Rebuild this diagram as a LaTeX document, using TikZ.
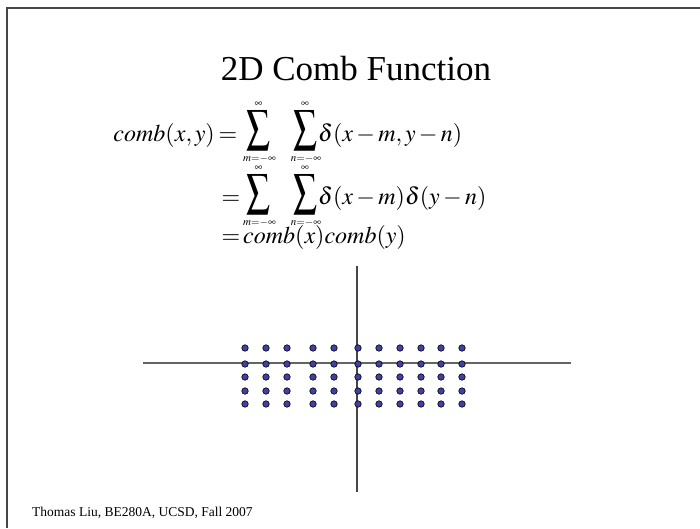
\documentclass[tikz,border=0pt]{standalone}
\usepackage{amsmath}
\usepackage{mathptmx}
\usepackage{graphicx}
\usepackage{fontspec}
\setmainfont{Liberation Serif}
\usepackage{xcolor}
\usetikzlibrary{positioning}

\definecolor{dotblue}{RGB}{64,64,168}
\definecolor{axisgray}{RGB}{100,100,100}
\definecolor{framegray}{RGB}{70,70,70}

% tall summation sign of fixed size
\newcommand{\bigsig}{\resizebox*{24pt}{40pt}{$\displaystyle\sum$}}

\begin{document}
\begin{tikzpicture}[
    x=1pt,y=-1pt,
    dot/.style={circle,draw=black,fill=dotblue,line width=0.6pt,minimum size=6.5pt,inner sep=0pt},
    axis/.style={draw=axisgray,line width=1.2pt},
    eq/.style={anchor=base west,font=\fontsize{24}{26}\selectfont},
    sig/.style={anchor=center},
    lim/.style={anchor=center,font=\fontsize{11}{12}\selectfont},
    every node/.style={inner sep=0pt}]
  \useasboundingbox (0,0) rectangle (700,528);
  % ---- slide frame ----
  \coordinate (fbl) at (7,528);
  \coordinate (ftl) at (7,8);
  \coordinate (ftr) at (700,8);
  \draw[framegray,line width=1.5pt] (fbl) -- (ftl) -- (ftr);
  % ---- title ----
  \node[anchor=base,font=\fontsize{35}{40}\selectfont] (title) at (356,80) {2D Comb Function};
  % ---- first line ----
  \node[eq,anchor=base east] (lhs) at (215,141.7) {$comb(x,y)$};
  \node[eq,anchor=base] (eqa) at (228,141.7) {$=$};
  \node[sig] (sma) at (258.5,130.5) {\bigsig};
  \node[sig] (sna) at (305,130.5) {\bigsig};
  \node[lim] (uma) at (258.5,104.5) {$\infty$};
  \node[lim] (una) at (305,104.5) {$\infty$};
  \node[lim] (lma) at (259.5,159) {$m{=}{-}\infty$};
  \node[lim] (lna) at (306,159) {$n{=}{-}\infty$};
  \node[eq] (bodya) at (318,141.7) {$\delta(x-m,y-n)$};
  % ---- second line ----
  \node[eq,anchor=base] (eqb) at (231,204.5) {$=$};
  \node[sig] (smb) at (258.5,194.5) {\bigsig};
  \node[sig] (snb) at (305,194.5) {\bigsig};
  \node[lim] (umb) at (258.5,168.5) {$\infty$};
  \node[lim] (unb) at (305,168.5) {$\infty$};
  \node[lim] (lmb) at (259.5,223) {$m{=}{-}\infty$};
  \node[lim] (lnb) at (306,223) {$n{=}{-}\infty$};
  \node[eq] (bodyb) at (318,204.5) {$\delta(x-m)\delta(y-n)$};
  % ---- third line ----
  \node[eq,anchor=base] (eqc) at (231,243) {$=$};
  \node[eq] (bodyc) at (243,243) {$comb(x)comb(y)$};
  % ---- axes ----
  \coordinate (xl) at (143,363);
  \coordinate (xr) at (571,363);
  \coordinate (yt) at (357,266);
  \coordinate (yb) at (357,492);
  \draw[axis] (xl) -- (xr);
  \draw[axis,draw=framegray] (yt) -- (yb);
  % ---- comb samples ----
  \foreach \x in {245,266,287,313,334,358,379,400,421,441,462}
    \foreach \y in {348,364,377,391,404}
      \node[dot] (d-\x-\y) at (\x,\y) {};
  % ---- footer ----
  \node[anchor=base west,font=\fontsize{13.5}{16}\selectfont] (credit) at (32,516) {Thomas Liu, BE280A, UCSD, Fall 2007};
\end{tikzpicture}
\end{document}
